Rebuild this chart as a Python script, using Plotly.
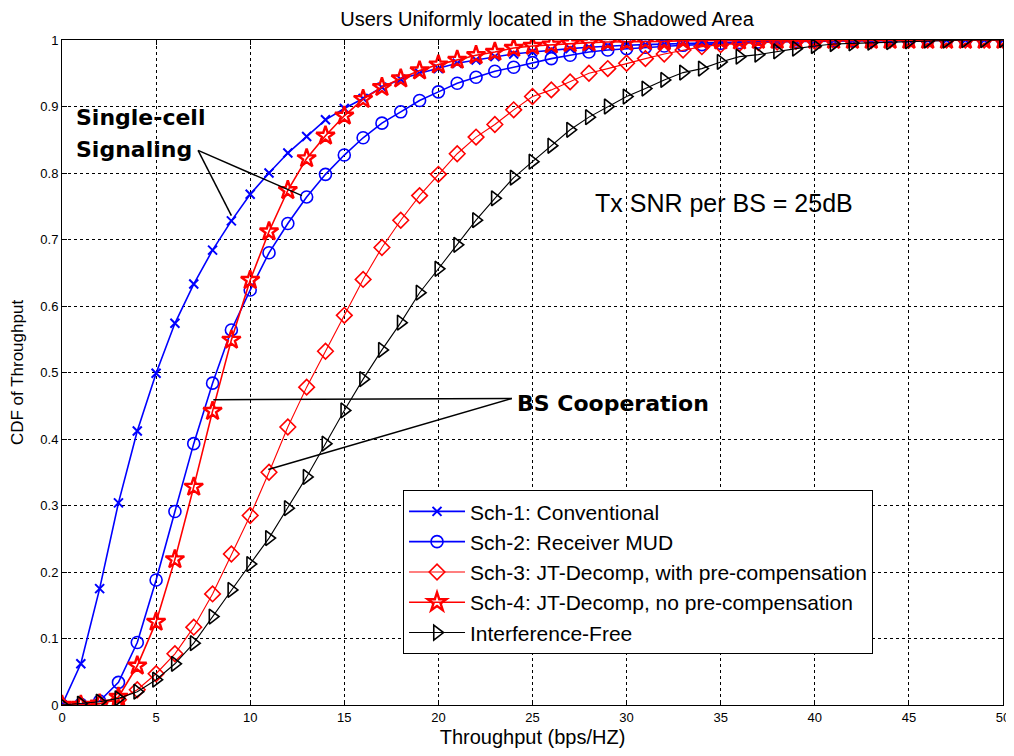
import plotly.graph_objects as go

x = list(range(0, 51))

sch1 = [0, 0.062, 0.175, 0.304, 0.412, 0.499, 0.574, 0.633, 0.684, 0.728,
        0.768, 0.800, 0.830, 0.855, 0.880, 0.897, 0.912, 0.929, 0.941, 0.950,
        0.957, 0.965, 0.970, 0.975, 0.979, 0.982, 0.985, 0.987, 0.989, 0.991,
        0.992, 0.993, 0.994, 0.995, 0.996, 0.996, 0.997, 0.997, 0.998, 0.998,
        0.998, 0.999, 0.999, 0.999, 0.999, 1.0, 1.0, 1.0, 1.0, 1.0, 1.0]

sch2 = [0, 0.001, 0.006, 0.034, 0.094, 0.188, 0.291, 0.393, 0.484, 0.564,
        0.624, 0.680, 0.724, 0.764, 0.798, 0.827, 0.853, 0.875, 0.892, 0.909,
        0.922, 0.935, 0.944, 0.953, 0.959, 0.966, 0.972, 0.977, 0.982, 0.985,
        0.987, 0.989, 0.991, 0.992, 0.993, 0.995, 0.996, 0.997, 0.998, 0.998,
        0.999, 0.999, 0.999, 0.999, 1.0, 1.0, 1.0, 1.0, 1.0, 1.0, 1.0]

sch3 = [0, 0.0, 0.002, 0.008, 0.023, 0.047, 0.077, 0.117, 0.167, 0.227,
        0.285, 0.350, 0.418, 0.478, 0.532, 0.586, 0.640, 0.688, 0.729, 0.766,
        0.798, 0.829, 0.854, 0.873, 0.895, 0.915, 0.925, 0.937, 0.950, 0.957,
        0.965, 0.972, 0.979, 0.985, 0.990, 0.993, 0.995, 0.996, 0.997, 0.998,
        0.998, 0.999, 0.999, 0.999, 1.0, 1.0, 1.0, 1.0, 1.0, 1.0, 1.0]

sch4 = [0, 0.0, 0.002, 0.012, 0.059, 0.125, 0.219, 0.328, 0.442, 0.549,
        0.639, 0.712, 0.774, 0.822, 0.856, 0.886, 0.911, 0.929, 0.942, 0.954,
        0.963, 0.970, 0.977, 0.982, 0.988, 0.991, 0.993, 0.995, 0.996, 0.997,
        0.997, 0.998, 0.998, 0.999, 0.999, 0.999, 0.999, 1.0, 1.0, 1.0,
        1.0, 1.0, 1.0, 1.0, 1.0, 1.0, 1.0, 1.0, 1.0, 1.0, 1.0]

free = [0, 0.002, 0.005, 0.010, 0.020, 0.038, 0.062, 0.093, 0.133, 0.173,
        0.212, 0.251, 0.296, 0.343, 0.393, 0.443, 0.490, 0.534, 0.575, 0.620,
        0.656, 0.692, 0.729, 0.762, 0.793, 0.817, 0.841, 0.865, 0.884, 0.900,
        0.915, 0.927, 0.940, 0.951, 0.957, 0.967, 0.975, 0.978, 0.983, 0.987,
        0.991, 0.994, 0.995, 0.996, 0.997, 0.998, 0.999, 0.999, 1.0, 1.0, 1.0]

names = ["Sch-1: Conventional", "Sch-2: Receiver MUD",
         "Sch-3: JT-Decomp, with pre-compensation",
         "Sch-4: JT-Decomp, no pre-compensation", "Interference-Free"]

FONT = "Liberation Sans, Arial, sans-serif"
BOLD = "DejaVu Sans, Liberation Sans, Arial, sans-serif"
NARROW = "Liberation Sans Narrow, Arial Narrow, Liberation Sans, sans-serif"

fig = go.Figure()
fig.add_trace(go.Scatter(x=x, y=sch1, name=names[0], mode="lines+markers",
                         line=dict(color="#0000ff", width=1.6),
                         marker=dict(symbol="x-thin-open", size=9, color="#0000ff",
                                     line=dict(color="#0000ff", width=2))))
fig.add_trace(go.Scatter(x=x, y=sch2, name=names[1], mode="lines+markers",
                         line=dict(color="#0000ff", width=1.6),
                         marker=dict(symbol="circle-open", size=12, color="#0000ff",
                                     line=dict(color="#0000ff", width=1.6))))
fig.add_trace(go.Scatter(x=x, y=sch3, name=names[2], mode="lines+markers",
                         line=dict(color="#ff0000", width=1.1),
                         marker=dict(symbol="diamond-open", size=12, color="#ff0000",
                                     line=dict(color="#ff0000", width=1.6))))
fig.add_trace(go.Scatter(x=x, y=sch4, name=names[3], mode="lines+markers",
                         line=dict(color="#ff0000", width=1.6),
                         marker=dict(symbol="star-open", size=14, color="#ff0000",
                                     line=dict(color="#ff0000", width=2.4))))
fig.add_trace(go.Scatter(x=x, y=free, name=names[4], mode="lines+markers",
                         line=dict(color="#000000", width=1.1),
                         marker=dict(symbol="triangle-right-open", size=13, color="#000000",
                                     line=dict(color="#000000", width=1.6))))

# annotation lines (Single-cell Signaling / BS Cooperation)
def seg(x0, y0, x1, y1):
    fig.add_shape(type="line", x0=x0, y0=y0, x1=x1, y1=y1, xref="x", yref="y",
                  line=dict(color="black", width=1.5))

seg(7.23, 0.834, 9.0, 0.736)
seg(7.23, 0.834, 12.75, 0.766)
seg(8.04, 0.459, 23.9, 0.461)
seg(23.9, 0.461, 10.96, 0.354)

fig.add_annotation(x=0.65, y=0.883, xref="x", yref="y", text="<b>Single-cell</b>",
                   showarrow=False, xanchor="left", yanchor="middle",
                   font=dict(family=BOLD, size=22, color="black"))
fig.add_annotation(x=0.65, y=0.835, xref="x", yref="y", text="<b>Signaling</b>",
                   showarrow=False, xanchor="left", yanchor="middle",
                   font=dict(family=BOLD, size=22, color="black"))
fig.add_annotation(x=24.05, y=0.453, xref="x", yref="y", text="<b>BS Cooperation</b>",
                   showarrow=False, xanchor="left", yanchor="middle",
                   font=dict(family=BOLD, size=22, color="black"))
fig.add_annotation(x=28.2, y=0.755, xref="x", yref="y", text="Tx SNR per BS = 25dB",
                   showarrow=False, xanchor="left", yanchor="middle",
                   font=dict(family=FONT, size=25, color="black"))

axis_common = dict(showline=True, linecolor="black", linewidth=1, mirror="allticks",
                   ticks="inside", ticklen=5, tickcolor="black",
                   showgrid=True, gridcolor="black", gridwidth=1, griddash="3px,3px",
                   zeroline=False, automargin=False,
                   tickfont=dict(family=NARROW, size=13, color="black"))

fig.update_xaxes(range=[0, 50], tick0=0, dtick=5,
                 title=dict(text="Throughput (bps/HZ)", standoff=6,
                            font=dict(family=FONT, size=20, color="black")),
                 **axis_common)
fig.update_yaxes(range=[0, 1], tickmode="array",
                 tickvals=[0, 0.1, 0.2, 0.3, 0.4, 0.5, 0.6, 0.7, 0.8, 0.9, 1],
                 ticktext=["0", "0.1", "0.2", "0.3", "0.4", "0.5", "0.6", "0.7", "0.8", "0.9", "1"],
                 title=dict(text="CDF of Throughput", standoff=12,
                            font=dict(family=FONT, size=17, color="black")),
                 **axis_common)

fig.update_layout(
    width=1006, height=740,
    margin=dict(l=54, r=11, t=32, b=43, autoexpand=False),
    paper_bgcolor="white", plot_bgcolor="white",
    title=dict(text="Users Uniformly located in the Shadowed Area", x=0.5154, xref="paper",
               xanchor="center", y=1 - 11 / 740, yanchor="middle",
               font=dict(family=FONT, size=20, color="black")),
    legend=dict(x=0.3624, y=0.323, xanchor="left", yanchor="top",
                bgcolor="white", bordercolor="black", borderwidth=1,
                font=dict(family=FONT, size=21, color="black"),
                itemwidth=56, tracegroupgap=0),
    showlegend=True,
)

fig.write_html("out.html")
